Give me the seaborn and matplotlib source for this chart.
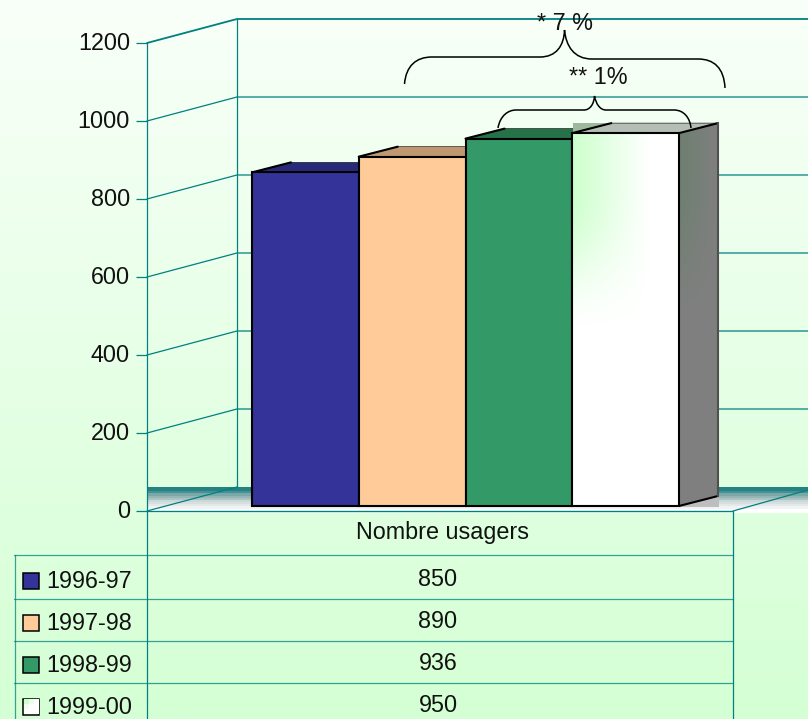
import numpy as np
import pandas as pd
import seaborn as sns
import matplotlib
matplotlib.use("Agg")
import matplotlib.pyplot as plt
from matplotlib.patches import Polygon, Rectangle, PathPatch
from matplotlib.path import Path
from matplotlib.transforms import ScaledTranslation

sns.set_style("white")
plt.rcParams['font.family'] = ['Liberation Sans', 'DejaVu Sans']
plt.rcParams['font.size'] = 16.8

# data
periods = ["1996-97", "1997-98", "1998-99", "1999-00"]
usagers = [850, 890, 936, 950]
colors = ["#333399", "#FFCC99", "#339966", "#FFFFFF"]
top_colors = ["#29297A", "#BF9870", "#267248", "#B4BEB4"]
y_ticks = [0, 200, 400, 600, 800, 1000, 1200]
table_title = "Nombre usagers"
note_all = "* 7 %"
note_last = "** 1%"

TEAL = "#008080"
W, H = 808, 719


def box(x0, y0, x1, y1):
    # pixels (origine en haut a gauche) -> rectangle de figure
    return [x0 / W, 1 - y1 / H, (x1 - x0) / W, (y1 - y0) / H]


def freeze(a, xlim, ylim):
    a.set_xlim(*xlim)
    a.set_ylim(*ylim)


def fade(v):
    # estompage vertical du degrade de la derniere barre
    s = np.clip((v - 0.45) / 0.4, 0, 1)
    return s * s * (3 - 2 * s)


fig = plt.figure(figsize=(8.08, 7.19), dpi=100)

# couche de fond en pixels
pix = fig.add_axes([0, 0, 1, 1], zorder=0)
pix.axis("off")
t = np.linspace(0, 1, 256)[:, None]
grad = np.zeros((256, 1, 3))
grad[..., 0] = (249 - 37 * t) / 255
grad[..., 1] = 1.0
grad[..., 2] = (249 - 37 * t) / 255
pix.imshow(grad, extent=[0, W, H, 0], aspect="auto", zorder=0)

# plancher degrade
floor = np.array([[36, 130, 130], [36, 130, 130], [70, 145, 145], [122, 168, 168],
                  [150, 182, 182], [170, 196, 196], [203, 216, 216], [214, 224, 224],
                  [228, 232, 232], [240, 243, 243], [255, 255, 255], [255, 255, 255]]) / 255
pix.imshow(floor[:, None, :], extent=[147, W, 513, 487], aspect="auto", zorder=1,
           interpolation="nearest")

# tableau
for yy in [555, 599, 641, 683]:
    pix.plot([14, 733], [yy, yy], color=TEAL, lw=0.9, alpha=0.75, zorder=2)
pix.plot([147, 733], [511, 511], color=TEAL, lw=1.0, zorder=2)
pix.plot([14.5, 14.5], [555, H], color=TEAL, lw=0.9, alpha=0.75, zorder=2)
pix.plot([147, 147], [511, H], color=TEAL, lw=0.9, zorder=2)
pix.plot([733, 733], [511, H], color=TEAL, lw=0.9, zorder=2)
pix.plot([733, 808], [511, 490], color=TEAL, lw=0.9, zorder=2)
pix.text(443, 533, table_title, ha="center", va="center", color="#111111")

row_y = [578, 620, 662, 704]
swatch = np.array([[[204, 255, 204], [235, 255, 235], [255, 255, 255]],
                   [[235, 255, 235], [255, 255, 255], [255, 255, 255]],
                   [[255, 255, 255], [255, 255, 255], [255, 255, 255]]]) / 255
for name, val, col, yy in zip(periods, usagers, colors, row_y):
    pix.add_patch(Rectangle((22.5, yy - 5.5), 16.5, 16.5, fc=col, ec="black", lw=1.1, zorder=3))
    pix.text(46, yy + 3, name, ha="left", va="center", color="#111111")
    pix.text(438, yy + 1.5, str(val), ha="center", va="center", color="#111111")
pix.imshow(swatch, extent=[23.5, 38.5, 714, 699], aspect="auto", zorder=4)
freeze(pix, (0, W), (H, 0))

# axe de gauche et parois
wall = fig.add_axes(box(147, 43, 237, 511), zorder=1)
wall.patch.set_alpha(0)
wall.set_xlim(0, 90)
wall.set_ylim(0, 1200)
wall.set_xticks([])
wall.set_yticks(y_ticks)
sns.despine(ax=wall, top=True, right=True, bottom=True)
wall.spines["left"].set_color(TEAL)
wall.spines["left"].set_linewidth(0.9)
wall.tick_params(axis="y", left=True, direction="out", length=7.9, width=0.9, color=TEAL,
                 pad=4.3, labelcolor="#111111")
up = ScaledTranslation(0, 1.5 / 100, fig.dpi_scale_trans)
for lab in wall.get_yticklabels():
    lab.set_transform(lab.get_transform() + up)
back = 24 / 0.39
for v in y_ticks:
    if v == 0:
        wall.plot([0, 90], [v, v + back], color=TEAL, lw=0.9, clip_on=False)
    else:
        wall.plot([0, 90, W - 147], [v, v + back, v + back], color=TEAL,
                  lw=1.3 if v == 1200 else 0.9, clip_on=False)
wall.plot([90, 90], [back, 1200 + back], color=TEAL, lw=0.9, clip_on=False)

# barres
df = pd.DataFrame({"periode": periods, "usagers": usagers})
ax = fig.add_axes(box(252, 506 - 0.3925 * 1000, 679, 506), zorder=2)
sns.barplot(data=df, x="periode", y="usagers", hue="periode", palette=colors, order=periods,
            hue_order=periods, width=1, saturation=1, legend=False, edgecolor="black",
            linewidth=1.5, ax=ax)
ax.set_xlim(-0.5, 3.5)
ax.set_ylim(0, 1000)
ax.axis("off")
dx = 39 / 106.75
dy = 10 / 0.3925

bars = list(ax.patches)
for b, tc in zip(bars, top_colors):
    b.set_clip_on(False)
    b.set_zorder(2)
    x0, x1, h = b.get_x(), b.get_x() + b.get_width(), b.get_height()
    z = 1.5 if b is bars[-1] else 1
    ax.add_patch(Polygon([(x0, h), (x0 + dx, h + dy), (x1 + dx, h + dy), (x1, h)], closed=True,
                         fc=tc, ec="#222222", lw=0.5, clip_on=False, zorder=z))
    ax.plot([x0, x0 + dx], [h, h + dy], color="black", lw=1.5, clip_on=False, zorder=z)

# zone grise autour de la derniere barre
ax.add_patch(Rectangle((573, 123), 146, 384, fc="#BEBEBE", ec="none", clip_on=False,
                       transform=pix.transData, zorder=1.2))
ax.add_patch(Rectangle((573, 123), 38, 10, fc="#9DB89D", ec="none", clip_on=False,
                       transform=pix.transData, zorder=1.3))

# degrades de la derniere barre
last = bars[-1]
x0, x1, h = last.get_x(), last.get_x() + last.get_width(), last.get_height()
xx, yy = np.meshgrid(np.linspace(0, 1, 120), np.linspace(1, 0, 200))
amount = np.clip(1 - xx / 0.72, 0, 1) * fade(yy)
front = np.dstack([1 - amount * 0.2, np.ones_like(amount), 1 - amount * 0.2])
im = ax.imshow(front, extent=[x0, x1, 0, h], aspect="auto", zorder=2.1)
im.set_clip_path(last.get_path(), last.get_transform())
last.set_facecolor("none")
last.set_zorder(2.2)

side_xy = [(x1, 0), (x1 + dx, dy), (x1 + dx, h + dy), (x1, h)]
side_poly = Polygon(side_xy, closed=True, fc="none", ec="none", clip_on=False, zorder=2.3)
ax.add_patch(side_poly)
xs, ys = np.meshgrid(np.linspace(0, 1, 60), np.linspace(1, 0, 200))
tint = np.clip(1 - xs, 0, 1) * fade(ys)
side = np.dstack([0.5 - 0.07 * tint, 0.5 * np.ones_like(tint), 0.5 - 0.06 * tint])
im2 = ax.imshow(side, extent=[x1, x1 + dx, 0, h + dy], aspect="auto", zorder=2.1)
im2.set_clip_box(fig.bbox)
im2.set_clip_path(side_poly.get_path(), side_poly.get_transform())
ax.plot([x1, x1 + dx], [0, dy], color="black", lw=1.5, clip_on=False, zorder=2.4)
ax.plot([x1, x1 + dx], [h, h + dy], color="black", lw=1.5, clip_on=False, zorder=2.4)
ax.plot([x1 + dx, x1 + dx], [dy, h + dy], color="#505050", lw=1.5, clip_on=False, zorder=2.4)
ax.set_xlim(-0.5, 3.5)
ax.set_ylim(0, 1000)

# accolades et annotations
over = fig.add_axes([0, 0, 1, 1], zorder=3)
over.patch.set_alpha(0)
over.axis("off")
freeze(over, (0, W), (H, 0))


def brace(pts):
    codes = [Path.MOVETO] + [Path.CURVE4, Path.CURVE4, Path.CURVE4, Path.LINETO,
                             Path.CURVE4, Path.CURVE4, Path.CURVE4,
                             Path.CURVE4, Path.CURVE4, Path.CURVE4, Path.LINETO,
                             Path.CURVE4, Path.CURVE4, Path.CURVE4]
    over.add_patch(PathPatch(Path(pts, codes), fc="none", ec="black", lw=1.1, clip_on=False))


brace([(404.5, 84), (406, 66), (416, 57), (432, 57), (540, 57),
       (556, 57), (564, 46), (564.5, 30), (566, 46), (574, 59), (592, 59),
       (698, 59), (714, 59), (724, 68), (725, 88)])
brace([(498, 128), (500, 116), (508, 110), (516, 110), (584, 110),
       (590, 110), (594, 104), (594.5, 96), (596, 104), (600, 110), (606, 110),
       (674, 110), (684, 110), (690, 118), (691, 128)])
over.text(565, 24, note_all, ha="center", va="center", color="#111111")
over.text(598, 77, note_last, ha="center", va="center", color="#111111")

fig.savefig("out.png", dpi=100)
